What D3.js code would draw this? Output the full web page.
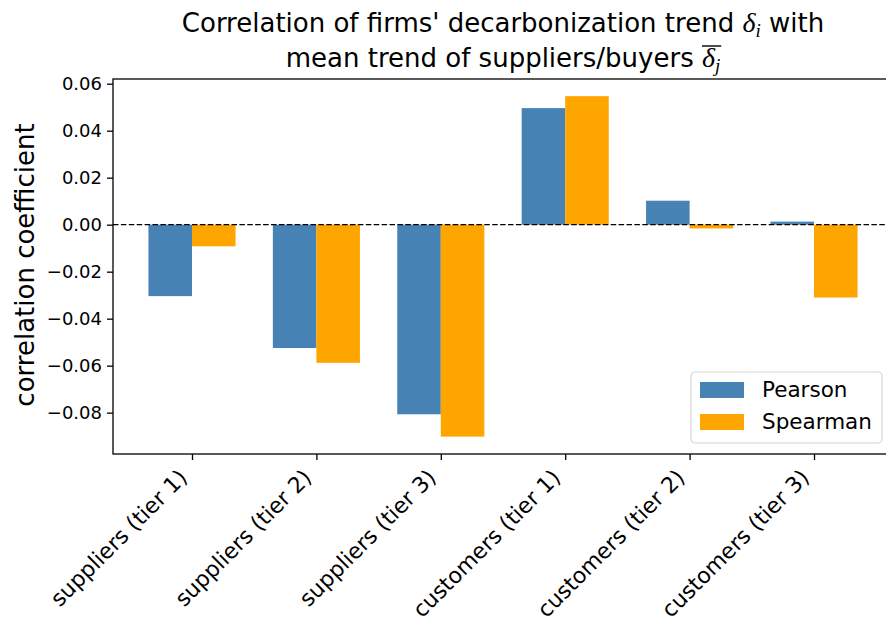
<!DOCTYPE html>
<meta charset="utf-8">
<head>
  <title>Correlation bars</title>
</head>

<style>
body { margin: 0; background: #fff; }
text { font-family: "DejaVu Sans", sans-serif; fill: #000; }
.axis path, .axis line { stroke: #000; stroke-width: 1.3; }
.math { font-family: "Liberation Serif", serif; font-style: italic; }
</style>

<body>
  <svg width="886" height="617"></svg>

  <script src="https://cdn.jsdelivr.net/npm/d3@7"></script>
  <script>
var categories = ["suppliers (tier 1)", "suppliers (tier 2)", "suppliers (tier 3)",
                  "customers (tier 1)", "customers (tier 2)", "customers (tier 3)"];
var pearson  = [-0.0304, -0.0525, -0.0807, 0.0496, 0.0102, 0.0013];
var spearman = [-0.0092, -0.0588, -0.0902, 0.0547, -0.0016, -0.0310];
var yTicks = [-0.08, -0.06, -0.04, -0.02, 0.00, 0.02, 0.04, 0.06];
var seriesNames = ["Pearson", "Spearman"];
var colors = ["steelblue", "orange"];

var plotLeft = 113, plotRight = 893, plotTop = 79, plotBottom = 454;
var barW = 0.35;

var svg = d3.select('svg');

var x = d3.scaleLinear().domain([-0.635, categories.length - 1 + 0.635]).range([plotLeft, plotRight]);
var y = d3.scaleLinear().domain([-0.0976, 0.062]).range([plotBottom, plotTop]);

// bars
var series = [pearson, spearman];
series.forEach(function(vals, s) {
  svg.append('g').selectAll('rect')
    .data(vals)
    .enter()
    .append('rect')
    .attr('x', function(d, i) { return x(i - barW + s * barW); })
    .attr('width', function(d, i) { return x(i + barW) - x(i); })
    .attr('y', function(d) { return y(Math.max(d, 0)); })
    .attr('height', function(d) { return Math.abs(y(d) - y(0)); })
    .attr('fill', colors[s]);
});

// zero line
svg.append('line')
  .attr('x1', plotLeft).attr('x2', plotRight)
  .attr('y1', y(0)).attr('y2', y(0))
  .attr('stroke', '#000').attr('stroke-width', 1.3)
  .attr('stroke-dasharray', '5.5,2.4');

// axes
var yAxis = svg.append('g').attr('class', 'axis')
  .attr('transform', 'translate(' + plotLeft + ',0)')
  .call(d3.axisLeft(y).tickValues(yTicks).tickFormat(d3.format('.2f')).tickSize(6).tickPadding(5).tickSizeOuter(0));
yAxis.select('.domain').remove();
yAxis.selectAll('text').style('font-size', '18px').style('font-family', '"DejaVu Sans"');

var xAxis = svg.append('g').attr('class', 'axis')
  .attr('transform', 'translate(0,' + plotBottom + ')')
  .call(d3.axisBottom(x).tickValues(d3.range(categories.length)).tickFormat(function(i) { return categories[i]; }).tickSize(6).tickSizeOuter(0));
xAxis.select('.domain').remove();
xAxis.selectAll('text')
  .style('font-size', '22px')
  .style('font-family', '"DejaVu Sans"')
  .attr('text-anchor', 'end')
  .attr('dy', null)
  .attr('y', null)
  .attr('transform', 'translate(-4,25) rotate(-45)');

// spines
svg.append('rect')
  .attr('x', plotLeft).attr('y', plotTop)
  .attr('width', plotRight - plotLeft).attr('height', plotBottom - plotTop)
  .attr('fill', 'none').attr('stroke', '#000').attr('stroke-width', 1.3);

// y label
svg.append('text')
  .attr('transform', 'translate(34,265) rotate(-90)')
  .attr('text-anchor', 'middle')
  .style('font-size', '26px')
  .text('correlation coefficient');

// title
var cx = (plotLeft + plotRight) / 2;
var t1 = svg.append('text').attr('x', cx).attr('y', 32).attr('text-anchor', 'middle').style('font-size', '26px');
t1.append('tspan').text("Correlation of firms' decarbonization trend ");
t1.append('tspan').attr('class', 'math').style('font-size', '28px').text('δ');
t1.append('tspan').attr('class', 'math').attr('dy', 5).style('font-size', '19px').text('i');
t1.append('tspan').attr('dy', -5).text(' with');

var t2 = svg.append('text').attr('x', cx).attr('y', 67).attr('text-anchor', 'middle').style('font-size', '26px');
t2.append('tspan').text('mean trend of suppliers/buyers ');
t2.append('tspan').attr('class', 'math').style('font-size', '28px').text('δ');
t2.append('tspan').attr('class', 'math').attr('dy', 5).style('font-size', '19px').text('j');
var n = 'mean trend of suppliers/buyers '.length;
var p0 = t2.node().getStartPositionOfChar(n);
var p1 = t2.node().getEndPositionOfChar(n + 1);
svg.append('line')
  .attr('x1', p0.x).attr('x2', p1.x + 1)
  .attr('y1', 46).attr('y2', 46)
  .attr('stroke', '#000').attr('stroke-width', 1.4);

// legend
var lg = svg.append('g').attr('transform', 'translate(691,372)');
lg.append('rect')
  .attr('width', 191).attr('height', 71).attr('rx', 4)
  .attr('fill', 'rgba(255,255,255,0.8)').attr('stroke', '#d6d6d6').attr('stroke-width', 1.2);
seriesNames.forEach(function(name, i) {
  lg.append('rect').attr('x', 9).attr('y', 10 + i * 32).attr('width', 44).attr('height', 16).attr('fill', colors[i]);
  lg.append('text').attr('x', 71).attr('y', 25 + i * 32).style('font-size', '21.5px').text(name);
});
  </script>
</body>
</html>
